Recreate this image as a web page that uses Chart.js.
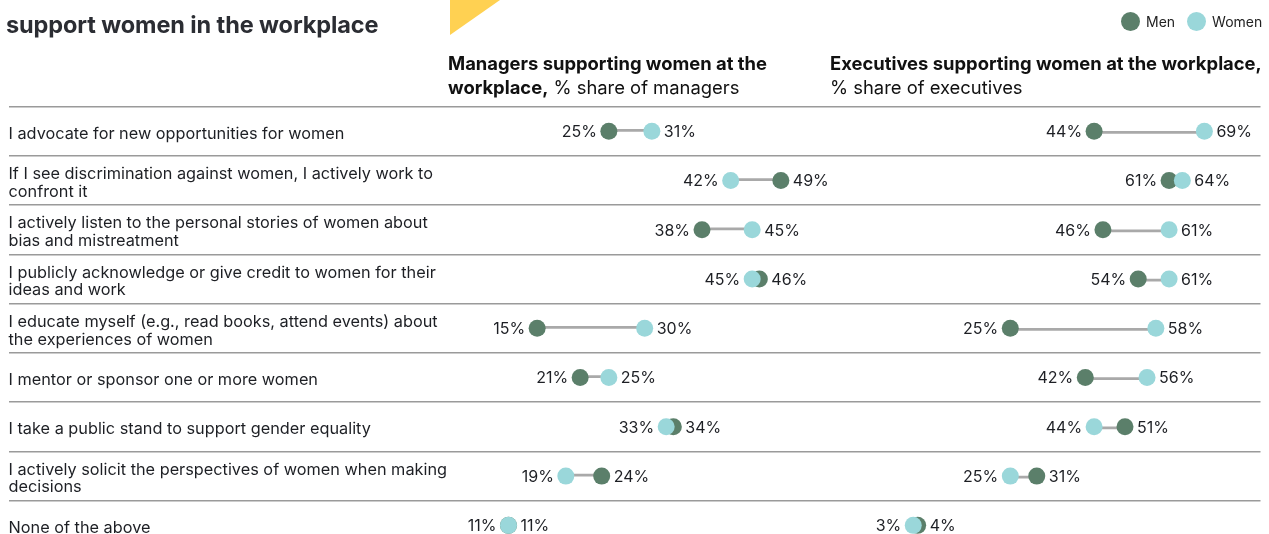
<!DOCTYPE html>
<html>
<head>
<meta charset="utf-8">
<script src="https://cdn.jsdelivr.net/npm/chart.js@4"></script>
<style>
  html, body { margin: 0; padding: 0; width: 1269px; height: 534px; overflow: hidden; background: #fff; }
  body { position: relative; font-family: Inter, 'Noto Sans', sans-serif; color: #1d1f24; }
  #wrap { position: absolute; left: 0; top: 0; width: 1269px; height: 580px; }
  .title { position: absolute; left: 6px; top: 10px; font-size: 23.5px; line-height: 30px; font-weight: 700; color: #2b2d33; letter-spacing: -0.1px; }
  .flag { position: absolute; left: 450px; top: 0; width: 50px; height: 35px; background: #ffd152; clip-path: polygon(0 0, 100% 0, 0 100%); }
  .legend { position: absolute; top: 12px; left: 1121px; font-size: 14px; line-height: 20px; color: #222; white-space: nowrap; }
  .legend span.dot { display: inline-block; width: 19px; height: 19px; border-radius: 50%; vertical-align: -4px; margin-right: 6px; }
  .legend span.item { margin-right: 12px; }
  .head { position: absolute; top: 51px; font-size: 18.4px; line-height: 24px; color: #111; white-space: nowrap; }
  .head b { font-weight: 700; }
</style>
</head>
<body>
<div id="wrap"><canvas id="grafico"></canvas></div>
<div class="title">support women in the workplace</div>
<div class="flag"></div>
<div class="legend">
  <span class="dot" style="background:#5b7f6a"></span><span class="item">Men</span><span class="dot" style="background:#9ad7da"></span><span>Women</span>
</div>
<div class="head" style="left:448px"><b>Managers supporting women at the<br>workplace,</b> % share of managers</div>
<div class="head" style="left:830px"><b>Executives supporting women at the workplace,</b><br>% share of executives</div>

<script>
'use strict';

// Row labels (arrays = wrapped lines)
const statements = [
  'I advocate for new opportunities for women',
  ['If I see discrimination against women, I actively work to', 'confront it'],
  ['I actively listen to the personal stories of women about', 'bias and mistreatment'],
  ['I publicly acknowledge or give credit to women for their', 'ideas and work'],
  ['I educate myself (e.g., read books, attend events) about', 'the experiences of women'],
  'I mentor or sponsor one or more women',
  'I take a public stand to support gender equality',
  ['I actively solicit the perspectives of women when making', 'decisions'],
  'None of the above'
];

// % share, managers
const mgrMen   = [25, 49, 38, 46, 15, 21, 34, 24, 11];
const mgrWomen = [31, 42, 45, 45, 30, 25, 33, 19, 11];

// % share, executives
const execMen   = [44, 61, 46, 54, 25, 42, 51, 31, 4];
const execWomen = [69, 64, 61, 61, 58, 56, 44, 25, 3];

const MEN = '#5b7f6a';
const WOMEN = '#9ad7da';
const LINK = '#a9a9a9';
const FONT = "Inter, 'Noto Sans', sans-serif";

function pts(arr) {
  return arr.map((v, i) => ({ x: v, y: i }));
}

function ranges(a, b) {
  return a.map((v, i) => [Math.min(v, b[i]), Math.max(v, b[i])]);
}

function dots(label, data, color, axis, order) {
  return {
    type: 'scatter', label: label, data: pts(data), xAxisID: axis, yAxisID: 'y',
    backgroundColor: color, borderColor: color, borderWidth: 0,
    pointRadius: 8.5, pointHoverRadius: 8.5, order: order
  };
}

function link(a, b, axis) {
  return {
    type: 'bar', data: ranges(a, b), xAxisID: axis, yAxisID: 'y',
    backgroundColor: LINK, barThickness: 2, borderSkipped: false, order: 3
  };
}

// value labels on either side of each dumbbell
const valueLabels = {
  id: 'valueLabels',
  afterDatasetsDraw(chart) {
    const ctx = chart.ctx;
    const y = chart.scales.y;
    ctx.save();
    ctx.font = '16px ' + FONT;
    ctx.fillStyle = '#1d1f24';
    ctx.textBaseline = 'middle';
    [['xM', mgrMen, mgrWomen], ['xE', execMen, execWomen]].forEach(([id, m, w]) => {
      const sx = chart.scales[id];
      m.forEach((mv, i) => {
        const lo = Math.min(mv, w[i]), hi = Math.max(mv, w[i]);
        const py = y.getPixelForValue(i) + 1;
        ctx.textAlign = 'right';
        ctx.fillText(lo + '%', sx.getPixelForValue(lo) - 12, py);
        ctx.textAlign = 'left';
        ctx.fillText(hi + '%', sx.getPixelForValue(hi) + 12, py);
      });
    });
    ctx.restore();
  }
};

const canvas = document.getElementById('grafico');
canvas.width = 1269;
canvas.height = 580;

new Chart(canvas.getContext('2d'), {
  type: 'bar',
  data: {
    labels: statements,
    datasets: [
      dots('Women', mgrWomen, WOMEN, 'xM', 1),
      dots('Men', mgrMen, MEN, 'xM', 2),
      dots('Women', execWomen, WOMEN, 'xE', 1),
      dots('Men', execMen, MEN, 'xE', 2),
      link(mgrMen, mgrWomen, 'xM'),
      link(execMen, execWomen, 'xE')
    ]
  },
  options: {
    indexAxis: 'y',
    responsive: false,
    animation: false,
    events: [],
    layout: { padding: { top: 106.7, left: 6, right: 7, bottom: 30 } },
    plugins: { legend: { display: false }, tooltip: { enabled: false } },
    scales: {
      // managers: 0% sits at x≈428, executives: 0% at x≈900
      xM: { type: 'linear', axis: 'x', position: 'bottom', display: false, offset: false, bounds: 'data', grace: 0, min: -58.76, max: 115.92 },
      xE: { type: 'linear', axis: 'x', position: 'bottom', display: false, offset: false, bounds: 'data', grace: 0, min: -202.1, max: 81.72 },
      y: {
        type: 'category', position: 'left', offset: true,
        grid: { offset: true, drawTicks: false, color: '#9a9a9a', lineWidth: 1.5 },
        border: { display: false },
        ticks: {
          mirror: true, padding: 0, crossAlign: 'near', color: '#1d1f24', labelOffset: 2.5,
          font: { family: FONT, size: 16.3, lineHeight: 1.1 }
        }
      }
    }
  },
  plugins: [valueLabels]
});
</script>
</body>
</html>
